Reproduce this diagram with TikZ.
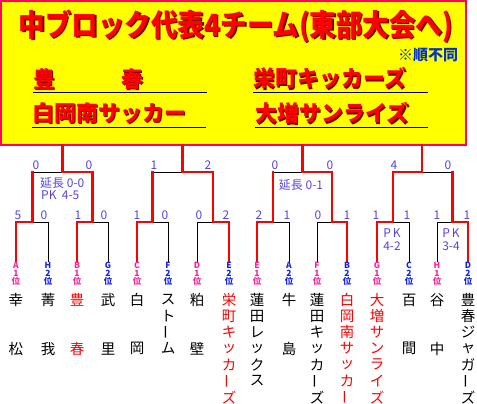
\documentclass[tikz,border=0pt]{standalone}
\usepackage{fontspec}
\usepackage{graphicx}
\newfontfamily\jp{Noto Sans CJK JP}
\usepackage{tikz}

\definecolor{vora}{RGB}{255,0,102}
\definecolor{groc}{RGB}{255,255,0}
\definecolor{vermell}{RGB}{255,0,0}
\definecolor{ombra}{RGB}{120,0,0}
\definecolor{blaunota}{RGB}{0,51,204}
\definecolor{marcador}{RGB}{85,68,221}
\definecolor{pos1}{RGB}{255,34,153}
\definecolor{pos2}{RGB}{17,34,238}

\newcommand{\barra}{\rotatebox{90}{ー}}
\newcommand{\titoltext}{\scalebox{1}[1.15]{中ブロック代表4チーム(東部大会へ)}}

\begin{document}
\begin{tikzpicture}[x=1pt, y=-1pt,
    guanyador/.style={line width=2.2pt, vermell, line cap=rect},
    perdedor/.style={line width=0.9pt, black},
    marca/.style={font=\jp\fontsize{12}{12}\selectfont, text=marcador, inner sep=0pt},
    lletra/.style={font=\jp\bfseries\fontsize{8.5}{8.5}\selectfont, inner sep=0pt},
    equip/.style={font=\jp\fontsize{14.5}{14.5}\selectfont, inner sep=0pt},
    nomcaixa/.style={font=\jp\bfseries\fontsize{22}{22}\selectfont, inner sep=0pt, anchor=west}]

\useasboundingbox (0,0) rectangle (477,404);

% Caixa

\draw[
    line width=2pt,
    vora,
    fill=groc
] (1,1) rectangle (466,145);

\node[
    font=\jp\bfseries\fontsize{26.5}{26.5}\selectfont,
    text=ombra,
    inner sep=0pt
] (titol-ombra) at (237.5,27.5) {\titoltext};

\node[
    font=\jp\bfseries\fontsize{26.5}{26.5}\selectfont,
    text=vermell,
    inner sep=0pt
] (titol) at (236,26) {\titoltext};

\node[
    font=\jp\bfseries\fontsize{15}{15}\selectfont,
    text=blaunota,
    inner sep=0pt
] (ordre) at (428,55) {※順不同};

\foreach \n/\x/\y/\txt in {1/33/79/{豊　　　春}, 2/32/113/白岡南サッカー,
    3/253/78/栄町キッカーズ, 4/255/113/大増サンライズ} {
  \node[nomcaixa, text=ombra] (rep-ombra-\n) at (\x+1.5,\y+1.5) {\txt};
  \node[nomcaixa, text=vermell] (rep-\n) at (\x,\y) {\txt};
}

\draw[thin] (33,92) -- (207,92);
\draw[thin] (32,127) -- (206,127);
\draw[thin] (253,92) -- (428,92);
\draw[thin] (255,127) -- (428,127);


% Quadre

\foreach \i/\x in {1/16,2/48,3/77,4/108,5/137,6/168,7/197,8/229,
    9/257,10/289,11/317,12/347,13/377,14/409,15/437,16/468}
  \coordinate (L\i) at (\x,262);

\foreach \j/\x in {1/32.5,2/92.5,3/152.5,4/213,5/273,6/332,7/393,8/452.5}
  \coordinate (A\j) at (\x,222);

\foreach \k/\x in {1/62.5,2/182.5,3/302.5,4/422}
  \coordinate (B\k) at (\x,172);

\foreach \k/\x in {1/62.5,2/182.5,3/302.5,4/422}
  \coordinate (T\k) at (\x,145);

\foreach \p/\j in {2/1,4/2,6/3,7/4,10/5,11/6,14/7,15/8}
  \draw[perdedor] (L\p) |- (A\j);

\foreach \j/\k in {1/1,3/2,5/3,8/4}
  \draw[perdedor] (A\j |- B\k) -- (B\k);

\foreach \g/\j in {1/1,3/2,5/3,8/4,9/5,12/6,13/7,16/8}
  \draw[guanyador] (L\g) |- (A\j);

\foreach \j/\k in {1/1,3/2,5/3,8/4}
  \draw[guanyador] (A\j) -- (A\j |- B\k);

\foreach \j/\k in {2/1,4/2,6/3,7/4}
  \draw[guanyador] (A\j) |- (B\k);

\foreach \k in {1,...,4}
  \draw[guanyador] (B\k) -- (T\k);


% Resultats

\foreach \x/\s [count=\n] in {36/0,89/0,154/1,208/2,275/0,330/0,394/4,448/0}
  \node[marca] (r2-\n) at (\x,165) {\s};

\foreach \x/\s [count=\n] in {18/5,44/0,78/1,104/0,137/1,165/0,199/0,226/2,
    259/2,287/1,318/0,347/1,376/1,407/1,437/1,467/1}
  \node[marca] (r1-\n) at (\x,215) {\s};

\node[marca, anchor=west] (prorroga1) at (40,182.5) {延長 0-0};
\node[marca, anchor=west] (penals1) at (41,195.5) {PK\ \ 4-5};
\node[marca] (prorroga2) at (301,185) {延長 0-1};
\node[marca] (penals2a) at (392,233) {P\,K};
\node[marca] (penals2b) at (392,246) {4-2};
\node[marca] (penals3a) at (451,233) {P\,K};
\node[marca] (penals3b) at (451,246) {3-4};


% Equips

\foreach \i/\lt/\rk/\col/\nom in {
    1/A/1/black/{幸,{},{},松},
    2/H/2/black/{菁,{},{},我},
    3/B/1/vermell/{豊,{},{},春},
    4/G/2/black/{武,{},{},里},
    5/C/1/black/{白,{},{},岡},
    6/F/2/black/{ス,ト,\barra,ム},
    7/D/1/black/{粕,{},{},壁},
    8/E/2/vermell/{栄,町,キ,ッ,カ,\barra,ズ},
    9/E/1/black/{蓮,田,レ,ッ,ク,ス},
    10/A/2/black/{牛,{},{},島},
    11/F/1/black/{蓮,田,キ,ッ,カ,\barra,ズ},
    12/B/2/vermell/{白,岡,南,サ,ッ,カ,\barra},
    13/G/1/vermell/{大,増,サ,ン,ラ,イ,ズ},
    14/C/2/black/{百,{},{},間},
    15/H/1/black/{谷,{},{},中},
    16/D/2/black/{豊,春,ジ,ャ,ガ,\barra,ズ}} {
  \node[lletra, text=pos\rk] (lt-\i) at (L\i |- 0,265) {\lt};
  \node[lletra, text=pos\rk] (rk-\i) at (L\i |- 0,273) {\rk};
  \node[lletra, text=pos\rk] (pos-\i) at (L\i |- 0,281.5) {位};
  \foreach \c [count=\k, evaluate=\k as \yy using 300+16.2*(\k-1)] in \nom
    \node[equip, text=\col] (eq-\i-\k) at (L\i |- 0,\yy) {\c};
}

\end{tikzpicture}
\end{document}
